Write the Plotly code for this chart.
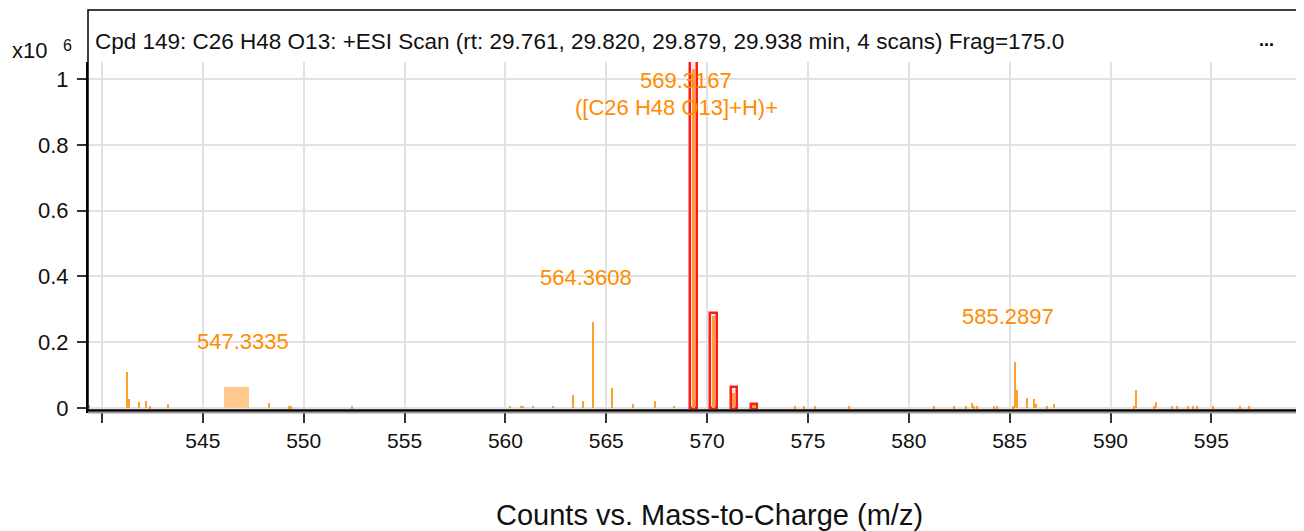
import plotly.graph_objects as go

# ---------------- data ----------------
obs_mz = [539.37, 541.22, 541.32, 541.85, 542.20, 542.40, 543.27, 548.30, 549.27, 549.37,
          552.38, 560.23, 560.77, 560.85, 561.39, 562.34, 563.33, 563.86, 564.33, 565.28,
          566.34, 567.41, 568.37, 569.3167, 570.32, 571.32, 572.32, 574.36, 574.82, 575.35,
          577.03, 581.27, 582.24, 582.86, 583.12, 583.22, 583.40, 584.20, 584.37, 585.16,
          585.26, 585.35, 585.87, 586.22, 586.30, 586.85, 587.19, 591.17, 591.25, 592.14,
          592.24, 593.03, 593.30, 593.83, 594.11, 594.29, 595.07, 596.40, 596.85]
obs_int = [0.008, 0.109, 0.027, 0.017, 0.022, 0.006, 0.012, 0.016, 0.006, 0.006,
           0.006, 0.007, 0.007, 0.007, 0.007, 0.007, 0.040, 0.022, 0.261, 0.062,
           0.012, 0.021, 0.007, 1.03, 0.28, 0.045, 0.008, 0.006, 0.006, 0.006,
           0.006, 0.006, 0.006, 0.006, 0.016, 0.006, 0.006, 0.006, 0.006, 0.006,
           0.141, 0.055, 0.032, 0.027, 0.011, 0.006, 0.011, 0.006, 0.055, 0.006,
           0.017, 0.006, 0.006, 0.006, 0.006, 0.006, 0.006, 0.006, 0.006]

# predicted isotope pattern (red boxes)
iso_mz = [569.3167, 570.32, 571.32, 572.32]
iso_int = [1.08, 0.29, 0.065, 0.012]

# shaded region
band_start = 546.04
band_end = 547.28
band_int = 0.064

label_mz = [547.3335, 564.3608, 585.2897]
label_int = [0.064, 0.261, 0.141]
main_label = "569.3167"
main_formula = "([C26 H48 O13]+H)+"

x_ticks = [540, 545, 550, 555, 560, 565, 570, 575, 580, 585, 590, 595]
x_ticktext = [""] + [str(v) for v in x_ticks[1:]]
y_ticks = [0, 0.2, 0.4, 0.6, 0.8, 1]
y_ticktext = ["0", "0.2", "0.4", "0.6", "0.8", "1"]

title_text = "Cpd 149: C26 H48 O13: +ESI Scan (rt: 29.761, 29.820, 29.879, 29.938 min, 4 scans) Frag=175.0"
x_title = "Counts vs. Mass-to-Charge (m/z)"

ORANGE = "#FF9F2E"
TXT_ORANGE = "#FF8C00"
FONT = "Liberation Sans, Arial, sans-serif"

fig = go.Figure()

# shaded band
fig.add_trace(go.Bar(x=[(band_start + band_end) / 2], y=[band_int], width=[band_end - band_start],
                     marker=dict(color="#FFC98E", line=dict(width=0)), hoverinfo="skip"))
# isotope boxes
fig.add_trace(go.Bar(x=iso_mz, y=iso_int, width=0.32,
                     marker=dict(color="rgba(255,236,236,1)", line=dict(color="#FF1A1A", width=2.5)),
                     hoverinfo="skip"))
# observed sticks (a bit wider where they sit inside isotope boxes)
stick_w = [0.16 if any(abs(m - i) < 0.05 for i in iso_mz) else 0.1 for m in obs_mz]
fig.add_trace(go.Bar(x=obs_mz, y=obs_int, width=stick_w,
                     marker=dict(color=ORANGE, line=dict(width=0)), hoverinfo="skip"))

ann = []
for m, h in zip(label_mz, label_int):
    ann.append(dict(x=m, y=h, xref="x", yref="y", text=f"{m:.4f}", showarrow=False,
                    xshift=-7, yshift=45, yanchor="middle",
                    font=dict(family=FONT, size=22, color=TXT_ORANGE)))
ann.append(dict(x=iso_mz[0], y=0.997, xref="x", yref="y", text=main_label, showarrow=False,
                xshift=-7, yanchor="middle", font=dict(family=FONT, size=22, color=TXT_ORANGE)))
ann.append(dict(x=iso_mz[0], y=0.912, xref="x", yref="y", text=main_formula, showarrow=False,
                xshift=-17, yanchor="middle", font=dict(family=FONT, size=22, color=TXT_ORANGE)))
ann.append(dict(x=0.004, y=1.060, xref="paper", yref="paper", text=title_text, showarrow=False,
                xanchor="left", yanchor="middle", font=dict(family=FONT, size=22.5, color="#111")))
ann.append(dict(x=0.974, y=1.063, xref="paper", yref="paper", text="<b>...</b>", showarrow=False,
                xanchor="center", yanchor="middle", font=dict(family=FONT, size=18, color="#000")))
ann.append(dict(x=-0.048, y=1.032, xref="paper", yref="paper", text="x10", showarrow=False,
                xanchor="center", yanchor="middle", font=dict(family=FONT, size=22, color="#111")))
ann.append(dict(x=-0.017, y=1.047, xref="paper", yref="paper", text="6", showarrow=False,
                xanchor="center", yanchor="middle", font=dict(family=FONT, size=16, color="#111")))
ann.append(dict(x=0.514, y=-0.302, xref="paper", yref="paper", text=x_title, showarrow=False,
                xanchor="center", yanchor="middle", font=dict(family=FONT, size=29, color="#111")))

shapes = [
    dict(type="rect", xref="paper", yref="paper", x0=0, x1=1, y0=0, y1=1.1494,
         line=dict(color="black", width=1.5), fillcolor="rgba(0,0,0,0)", layer="above"),
    dict(type="line", xref="paper", yref="paper", x0=0, x1=1, y0=-0.0075, y1=-0.0075,
         line=dict(color="#9a9a9a", width=2), layer="above"),
]

# page has an 8px body margin, so the figure is sized/offset to compensate
fig.update_layout(
    width=1296, height=523,
    margin=dict(l=80, r=6, t=54, b=121),
    paper_bgcolor="white", plot_bgcolor="white",
    barmode="overlay", bargap=0, showlegend=False,
    font=dict(family=FONT, size=21, color="#111"),
    annotations=ann, shapes=shapes,
    xaxis=dict(range=[539.306, 599.296], tickvals=x_ticks, ticktext=x_ticktext,
               showgrid=True, gridcolor="#E2E2E2", gridwidth=1.5,
               showline=True, linecolor="black", linewidth=3,
               ticks="outside", ticklen=10, tickwidth=2, tickcolor="#333",
               tickfont=dict(family=FONT, size=21, color="#111"), zeroline=False),
    yaxis=dict(range=[-0.006, 1.0517], tickvals=y_ticks, ticktext=y_ticktext,
               showgrid=True, gridcolor="#E2E2E2", gridwidth=1.5,
               showline=True, linecolor="black", linewidth=2,
               ticks="outside", ticklen=9, tickwidth=1.5, tickcolor="#333",
               ticklabelstandoff=4,
               tickfont=dict(family=FONT, size=22, color="#111"), zeroline=False),
)

fig.write_html("out.html")
